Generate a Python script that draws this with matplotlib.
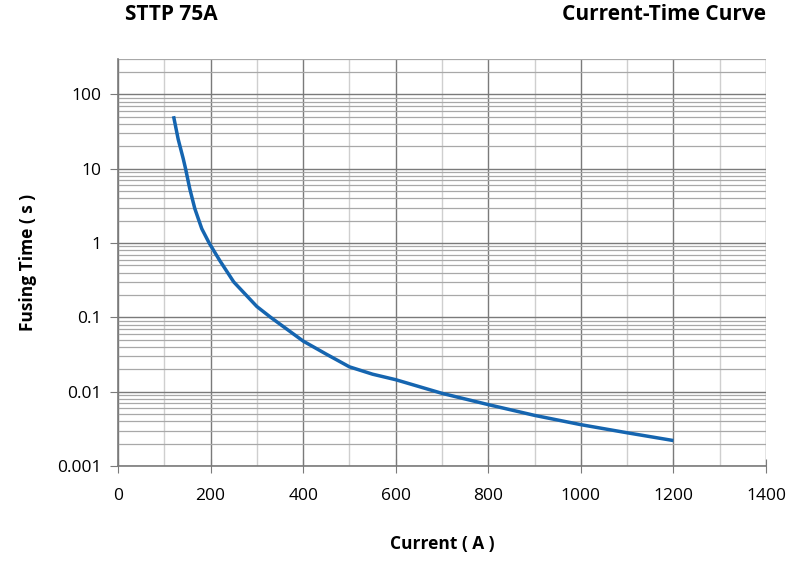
import numpy as np
import matplotlib.pyplot as plt
from matplotlib.ticker import FixedLocator, LogLocator, NullFormatter

current = [120, 130, 141, 146, 155, 166, 181, 197, 220, 250, 300, 330, 400, 450, 500,
           550, 600, 700, 800, 900, 1000, 1100, 1200]
fuse_time = [51, 25, 13.6, 10, 5.4, 2.9, 1.56, 1.0, 0.58, 0.30, 0.14, 0.1, 0.048, 0.032,
             0.0216, 0.0172, 0.0145, 0.0095, 0.0067, 0.0048, 0.0036, 0.0028, 0.0022]

x_ticks = [0, 200, 400, 600, 800, 1000, 1200, 1400]
y_ticks = [0.001, 0.01, 0.1, 1, 10, 100]
y_labels = ['0.001', '0.01', '0.1', '1', '10', '100']

plt.rcParams['font.family'] = ['Open Sans', 'DejaVu Sans']

fig = plt.figure(figsize=(7.9, 5.64), dpi=100)
ax = fig.add_axes([118 / 790, 1 - 466 / 564, 648 / 790, 407 / 564])

ax.plot(current, fuse_time, color='#1565b0', lw=2.5, solid_capstyle='butt',
        solid_joinstyle='round')

ax.set_yscale('log')
ax.set_xlim(0, 1400)
ax.set_ylim(0.001, 300)

ax.xaxis.set_major_locator(FixedLocator(x_ticks))
ax.xaxis.set_minor_locator(FixedLocator(np.arange(100, 1400, 200)))
ax.set_yticks(y_ticks)
ax.set_yticklabels(y_labels)
ax.yaxis.set_minor_locator(LogLocator(base=10, subs=np.arange(2, 10)))
ax.yaxis.set_minor_formatter(NullFormatter())

ax.grid(which='major', color='#7a7a7a', lw=1.0)
ax.grid(which='minor', axis='x', color='#cfcfcf', lw=1.0)
ax.grid(which='minor', axis='y', color='#a8a8a8', lw=0.9)
ax.set_axisbelow(True)

for s in ['top', 'right']:
    ax.spines[s].set_visible(False)
for s in ['left', 'bottom']:
    ax.spines[s].set_color('#7a7a7a')
    ax.spines[s].set_linewidth(1.2)

ax.tick_params(axis='y', which='major', direction='out', length=6, color='#7a7a7a',
               labelsize=12.5, pad=6)
ax.tick_params(axis='x', which='major', direction='inout', length=10, color='#7a7a7a',
               labelsize=12.5, pad=11)
ax.tick_params(which='minor', length=0)

ax.set_xlabel('Current ( A )', fontsize=12.5, fontweight='bold', labelpad=22)
ax.set_ylabel('Fusing Time ( s )', fontsize=12.5, fontweight='bold', labelpad=14)

fig.text(125 / 790, 1 - 14 / 564, 'STTP 75A', fontsize=15, fontweight='bold',
         ha='left', va='center')
fig.text(766 / 790, 1 - 14 / 564, 'Current-Time Curve', fontsize=15, fontweight='bold',
         ha='right', va='center')

fig.savefig('out.png', dpi=100)
